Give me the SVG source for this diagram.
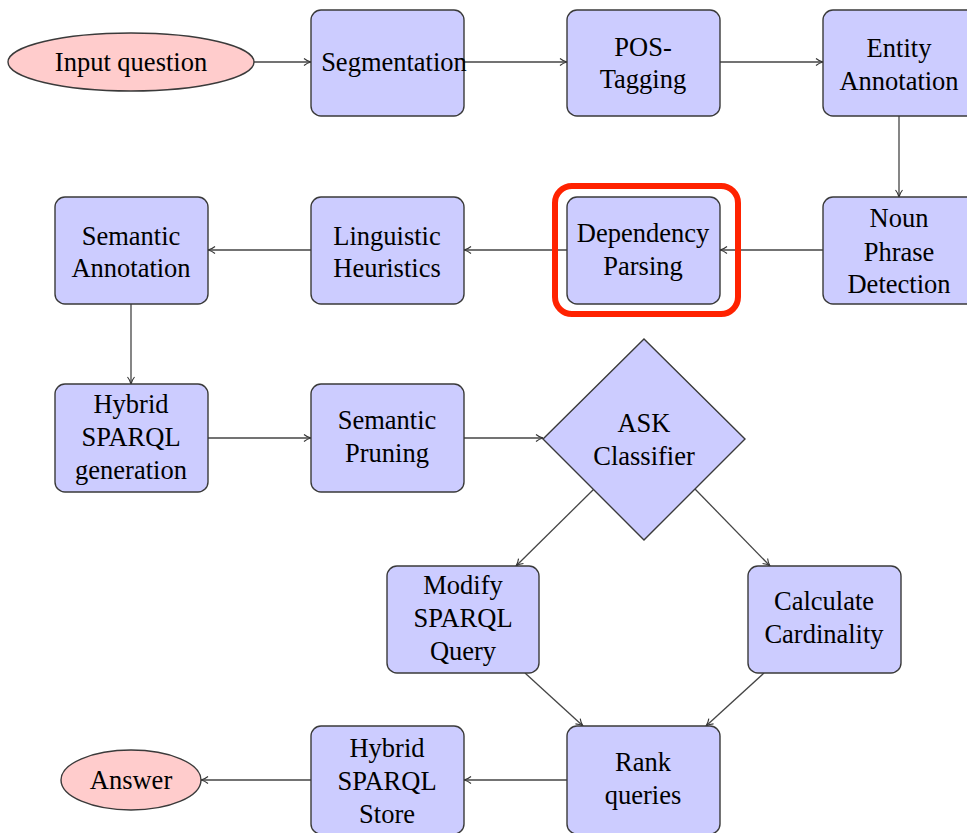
<svg xmlns="http://www.w3.org/2000/svg" width="967" height="833" viewBox="0 0 967 833">
<defs>
<marker id="arr" viewBox="0 0 10 10" refX="9" refY="5" markerWidth="10" markerHeight="10" markerUnits="userSpaceOnUse" orient="auto">
<path d="M2,1.5 Q5,4 9,5 Q5,6 2,8.5" fill="none" stroke="#333" stroke-width="1.1"/>
</marker>
<style>
.box{fill:#ccccff;stroke:#3a3a3a;stroke-width:1.4}
.ell{fill:#ffcccc;stroke:#3a3a3a;stroke-width:1.4}
.t{font-family:"Liberation Serif","Times New Roman",serif;font-size:26.5px;fill:#000;text-anchor:middle}
.c{fill:none;stroke:#444;stroke-width:1.3;marker-end:url(#arr)}
</style>
</defs>
<rect width="967" height="833" fill="#fff"/>
<g id="connectors">
<line class="c" x1="254" y1="62" x2="311" y2="62"/>
<line class="c" x1="464" y1="62" x2="567" y2="62"/>
<line class="c" x1="720" y1="62" x2="823" y2="62"/>
<line class="c" x1="899" y1="116" x2="899" y2="197"/>
<line class="c" x1="823" y1="250" x2="720" y2="250"/>
<line class="c" x1="567" y1="250" x2="464" y2="250"/>
<line class="c" x1="311" y1="250" x2="208" y2="250"/>
<line class="c" x1="131" y1="304" x2="131" y2="384"/>
<line class="c" x1="208" y1="438" x2="311" y2="438"/>
<line class="c" x1="464" y1="438" x2="543" y2="438"/>
<line class="c" x1="594" y1="489" x2="516" y2="566"/>
<line class="c" x1="695" y1="489" x2="770" y2="566"/>
<line class="c" x1="525" y1="673" x2="583" y2="726"/>
<line class="c" x1="764" y1="673" x2="706" y2="726"/>
<line class="c" x1="567" y1="780" x2="464" y2="780"/>
<line class="c" x1="311" y1="780" x2="201" y2="780"/>
</g>
<g id="input"><ellipse class="ell" cx="131" cy="62" rx="123" ry="29"/><text class="t" x="131" y="71">Input question</text></g>
<g id="segmentation"><rect class="box" x="311" y="10" width="153" height="106" rx="10"/><text class="t" x="394" y="71">Segmentation</text></g>
<g id="pos"><rect class="box" x="567" y="10" width="153" height="106" rx="10"/><text class="t" x="643" y="56">POS-</text><text class="t" x="643" y="88">Tagging</text></g>
<g id="entity"><rect class="box" x="823" y="10" width="153" height="106" rx="10"/><text class="t" x="899" y="57">Entity</text><text class="t" x="899" y="90">Annotation</text></g>
<g id="noun"><rect class="box" x="823" y="197" width="153" height="107" rx="10"/><text class="t" x="899" y="227">Noun</text><text class="t" x="899" y="261">Phrase</text><text class="t" x="899" y="293">Detection</text></g>
<g id="dependency"><rect class="box" x="567" y="197" width="153" height="107" rx="10"/><text class="t" x="643" y="242">Dependency</text><text class="t" x="643" y="275">Parsing</text><rect x="555" y="186" width="183" height="128" rx="17" fill="none" stroke="#ff2200" stroke-width="6"/></g>
<g id="linguistic"><rect class="box" x="311" y="197" width="153" height="107" rx="10"/><text class="t" x="387" y="245">Linguistic</text><text class="t" x="387" y="277">Heuristics</text></g>
<g id="semanno"><rect class="box" x="55" y="197" width="153" height="107" rx="10"/><text class="t" x="131" y="245">Semantic</text><text class="t" x="131" y="277">Annotation</text></g>
<g id="hybridgen"><rect class="box" x="55" y="384" width="153" height="108" rx="10"/><text class="t" x="131" y="413">Hybrid</text><text class="t" x="131" y="446">SPARQL</text><text class="t" x="131" y="479">generation</text></g>
<g id="pruning"><rect class="box" x="311" y="384" width="153" height="108" rx="10"/><text class="t" x="387" y="429">Semantic</text><text class="t" x="387" y="462">Pruning</text></g>
<g id="ask"><polygon class="box" points="644,339 745,439 644,540 543,439"/><text class="t" x="644" y="432">ASK</text><text class="t" x="644" y="465">Classifier</text></g>
<g id="modify"><rect class="box" x="387" y="566" width="152" height="107" rx="10"/><text class="t" x="463" y="594">Modify</text><text class="t" x="463" y="627">SPARQL</text><text class="t" x="463" y="660">Query</text></g>
<g id="cardinality"><rect class="box" x="748" y="566" width="153" height="107" rx="10"/><text class="t" x="824" y="610">Calculate</text><text class="t" x="824" y="643">Cardinality</text></g>
<g id="rank"><rect class="box" x="567" y="726" width="153" height="108" rx="10"/><text class="t" x="643" y="771">Rank</text><text class="t" x="643" y="804">queries</text></g>
<g id="store"><rect class="box" x="311" y="726" width="153" height="108" rx="10"/><text class="t" x="387" y="757">Hybrid</text><text class="t" x="387" y="790">SPARQL</text><text class="t" x="387" y="823">Store</text></g>
<g id="answer"><ellipse class="ell" cx="131" cy="780" rx="70" ry="30"/><text class="t" x="131" y="789">Answer</text></g>
</svg>
